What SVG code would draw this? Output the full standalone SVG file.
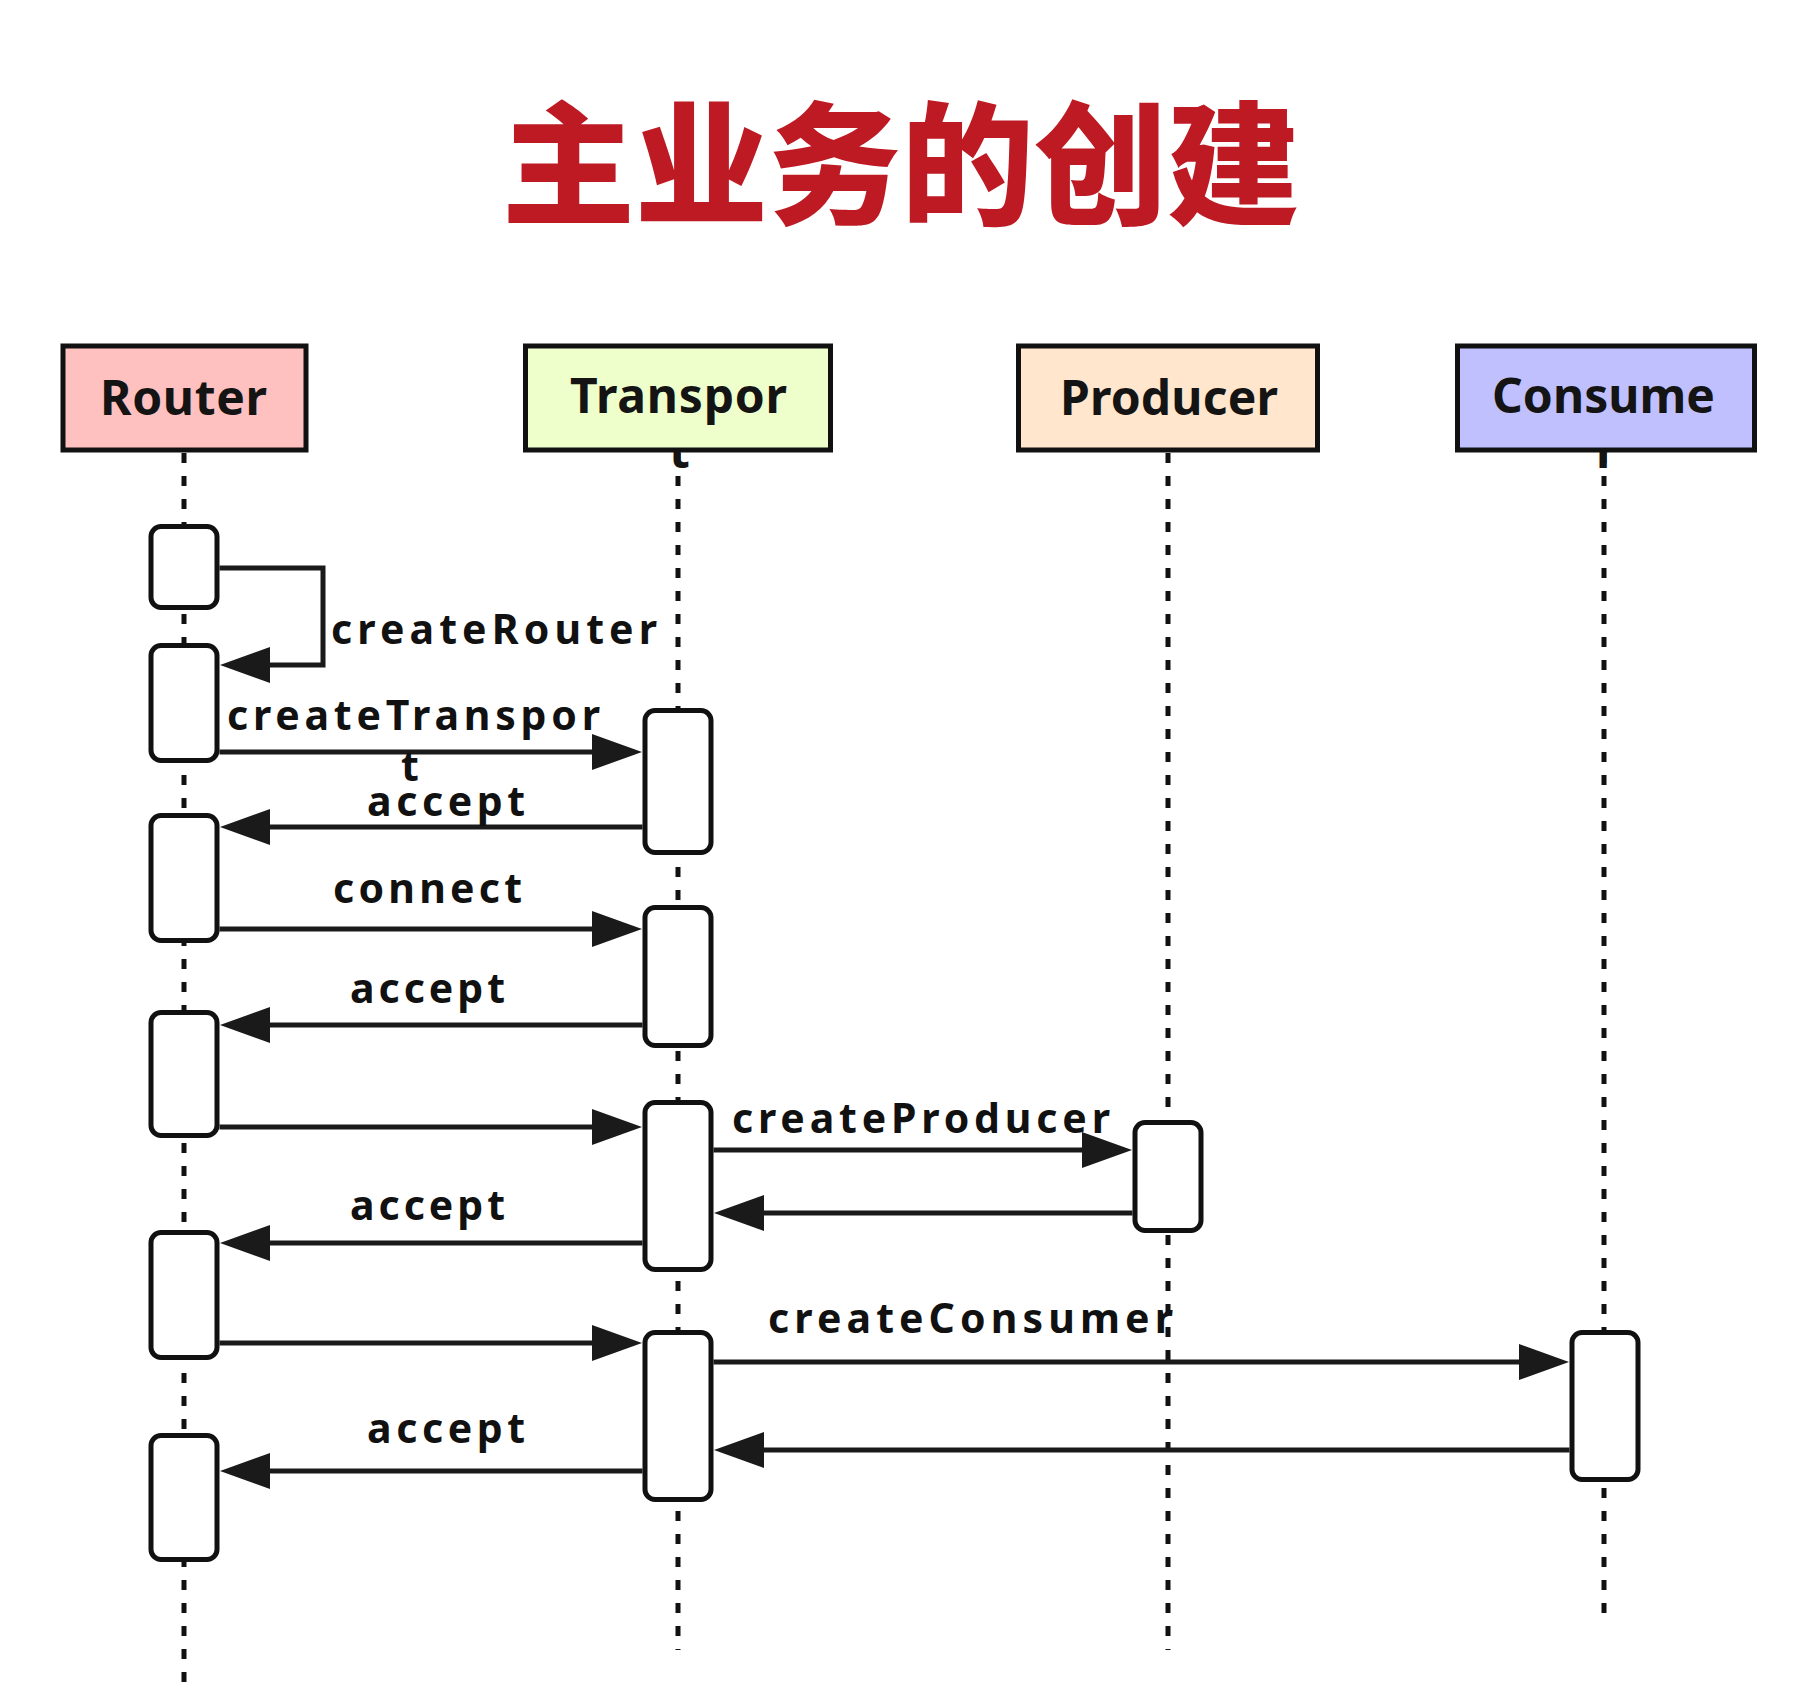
<svg xmlns="http://www.w3.org/2000/svg" width="1811" height="1704" viewBox="0 0 1811 1704">
<style>
  .title { font-family: "Noto Sans CJK SC", "Noto Sans", sans-serif; font-weight: 900; font-size: 133px; fill: #be1a24; }
  .head { stroke: #111; stroke-width: 5; }
  .htxt { font-family: "Noto Sans", "Liberation Sans", sans-serif; font-weight: 700; font-size: 48px; fill: #141414; }
  .lbl { font-family: "Noto Sans", "Liberation Sans", sans-serif; font-weight: 700; font-size: 41px; fill: #111; }
  .life { stroke: #111; stroke-width: 5; stroke-dasharray: 10 13; fill: none; }
  .act { fill: #fff; stroke: #111; stroke-width: 5; }
  .msg { fill: none; stroke: #1a1a1a; stroke-width: 5; marker-end: url(#ah); }
</style>
<defs>
  <marker id="ah" viewBox="0 0 50 36" refX="40" refY="18" markerWidth="50" markerHeight="36" markerUnits="userSpaceOnUse" orient="auto">
    <path d="M0,0 L50,18 L0,36 z" fill="#1a1a1a"/>
  </marker>
</defs>
<rect width="1811" height="1704" fill="#fff"/>

<text class="title" x="502" y="214" textLength="798" lengthAdjust="spacingAndGlyphs">主业务的创建</text>

<g id="lifelines">
  <line class="life" x1="184" y1="453" x2="184" y2="1695"/>
  <line class="life" x1="678" y1="453" x2="678" y2="1650"/>
  <line class="life" x1="1168" y1="453" x2="1168" y2="1650"/>
  <line class="life" x1="1604" y1="453" x2="1604" y2="1625"/>
</g>

<g id="router">
  <rect x="63" y="346" width="243" height="104" fill="#ffc0c0" class="head"/>
  <text class="htxt" x="100" y="415" textLength="167" lengthAdjust="spacing">Router</text>
</g>
<g id="transport">
  <text class="htxt" x="669" y="468">t</text>
  <rect x="525.5" y="346" width="305" height="104" fill="#eeffcc" class="head"/>
  <text class="htxt" x="570" y="413" textLength="217" lengthAdjust="spacing">Transpor</text>
</g>
<g id="producer">
  <rect x="1018.5" y="346" width="299" height="104" fill="#ffe6cc" class="head"/>
  <text class="htxt" x="1060" y="415" textLength="218" lengthAdjust="spacing">Producer</text>
</g>
<g id="consumer">
  <text class="htxt" x="1596" y="468">r</text>
  <rect x="1457.5" y="346" width="297" height="104" fill="#c0c0ff" class="head"/>
  <text class="htxt" x="1492" y="413" textLength="223" lengthAdjust="spacing">Consume</text>
</g>

<g id="activations">
  <rect class="act" x="151" y="526.5" width="66" height="81" rx="10"/>
  <rect class="act" x="151" y="645.5" width="66" height="115" rx="10"/>
  <rect class="act" x="151" y="815.5" width="66" height="125" rx="10"/>
  <rect class="act" x="151" y="1012.5" width="66" height="123" rx="10"/>
  <rect class="act" x="151" y="1232.5" width="66" height="125" rx="10"/>
  <rect class="act" x="151" y="1435.5" width="66" height="124" rx="10"/>
  <rect class="act" x="645" y="710.5" width="66" height="142" rx="10"/>
  <rect class="act" x="645" y="907.5" width="66" height="138" rx="10"/>
  <rect class="act" x="645" y="1102.5" width="66" height="167" rx="10"/>
  <rect class="act" x="645" y="1332.5" width="66" height="167" rx="10"/>
  <rect class="act" x="1135" y="1122.5" width="66" height="108" rx="10"/>
  <rect class="act" x="1572" y="1332.5" width="66" height="147" rx="10"/>
</g>

<g id="connectors">
  <path class="msg" d="M219.5,568 H323 V665 H230"/>
  <path class="msg" d="M219.5,752 H632"/>
  <path class="msg" d="M642.5,827 H230"/>
  <path class="msg" d="M219.5,929 H632"/>
  <path class="msg" d="M642.5,1025 H230"/>
  <path class="msg" d="M219.5,1127 H632"/>
  <path class="msg" d="M713.5,1150 H1122"/>
  <path class="msg" d="M1132.5,1213 H724"/>
  <path class="msg" d="M642.5,1243 H230"/>
  <path class="msg" d="M219.5,1343 H632"/>
  <path class="msg" d="M713.5,1362 H1559"/>
  <path class="msg" d="M1569.5,1450 H724"/>
  <path class="msg" d="M642.5,1471 H230"/>
</g>

<g id="labels">
  <text class="lbl" x="331" y="644" textLength="326" lengthAdjust="spacing">createRouter</text>
  <text class="lbl" x="227" y="730" textLength="373" lengthAdjust="spacing">createTranspor</text>
  <text class="lbl" x="401" y="781">t</text>
  <text class="lbl" x="367" y="816" textLength="158" lengthAdjust="spacing">accept</text>
  <text class="lbl" x="333" y="903" textLength="189" lengthAdjust="spacing">connect</text>
  <text class="lbl" x="350" y="1003" textLength="155" lengthAdjust="spacing">accept</text>
  <text class="lbl" x="732" y="1133" textLength="378" lengthAdjust="spacing">createProducer</text>
  <text class="lbl" x="350" y="1220" textLength="155" lengthAdjust="spacing">accept</text>
  <text class="lbl" x="768" y="1333" textLength="405" lengthAdjust="spacing">createConsumer</text>
  <text class="lbl" x="367" y="1443" textLength="158" lengthAdjust="spacing">accept</text>
</g>
</svg>
